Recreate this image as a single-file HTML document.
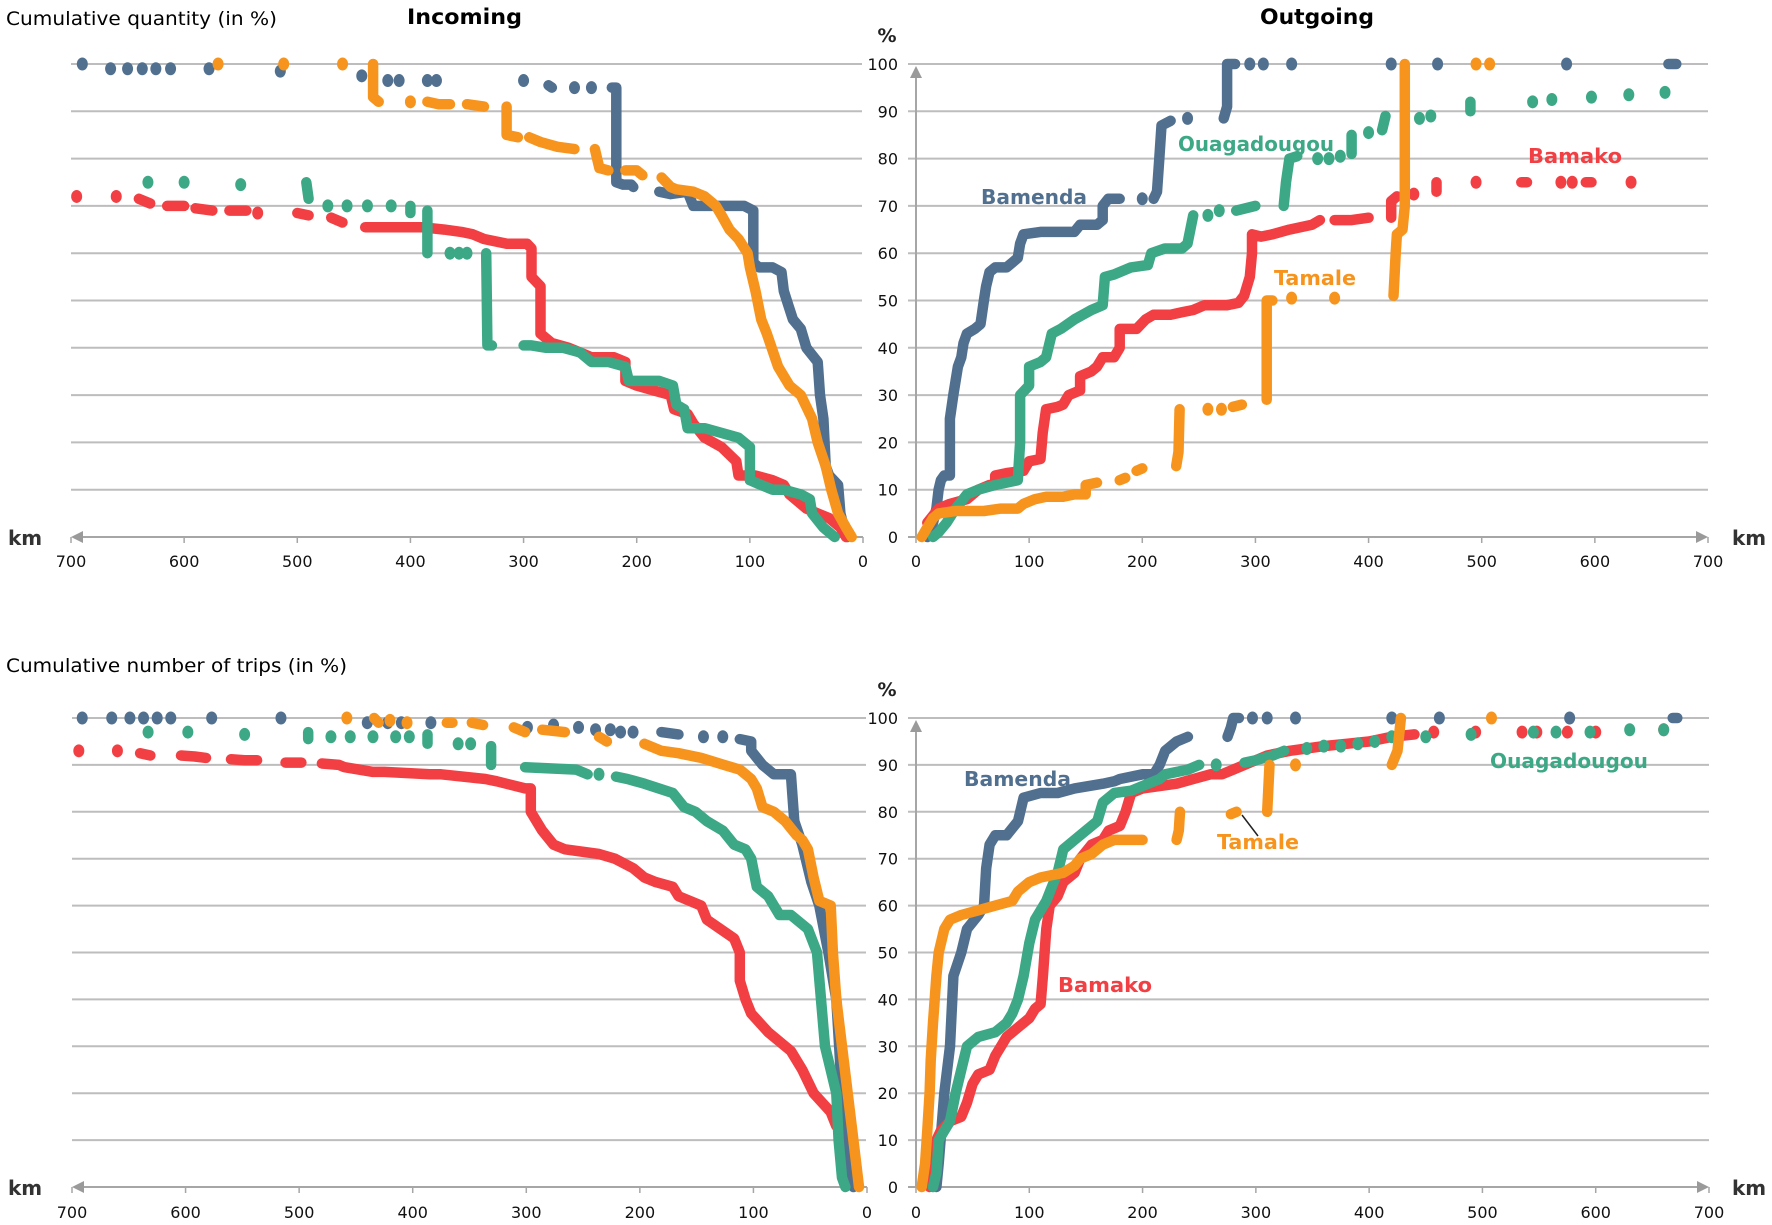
<!DOCTYPE html>
<html><head><meta charset="utf-8">
<style>
html,body{margin:0;padding:0;background:#fff;}
svg{display:block;font-family:"DejaVu Sans","Liberation Sans",sans-serif;}
</style></head>
<body>
<svg id="chart" xmlns="http://www.w3.org/2000/svg" width="1772" height="1225" viewBox="0 0 1772 1225">
<text x="6" y="25" font-size="19" textLength="271" lengthAdjust="spacingAndGlyphs">Cumulative quantity (in %)</text>
<text x="407" y="24" font-size="21" font-weight="bold" textLength="115" lengthAdjust="spacingAndGlyphs">Incoming</text>
<text x="1260" y="24" font-size="21" font-weight="bold" textLength="114" lengthAdjust="spacingAndGlyphs">Outgoing</text>
<text x="6" y="672" font-size="19" textLength="341" lengthAdjust="spacingAndGlyphs">Cumulative number of trips (in %)</text>
<g id="layer"></g>
</svg>
<script>
// ---------- data: [km, percent], null = break between separate marks ----------
const yTicks = [0,10,20,30,40,50,60,70,80,90,100];
const xTicks = [0,100,200,300,400,500,600,700];
const seriesNames = ["Bamenda","Bamako","Ouagadougou","Tamale"];

const qInBamenda = [[690,100],null,[665,99],null,[650,99],null,[637,99],null,[625,99],null,[612,99],null,[578,99],null,[515,98.5],null,[443,97.5],null,[420,96.5],null,[410,96.5],null,[385,96.5],null,[377,96.5],null,[300,96.5],null,[278,95.5],[275,95],null,[255,95],null,[240,95],null,
 [222,95],[218,95],[218,75],[212,74.5],[205,74.5],[203,74],null,[180,73],[170,72.5],[155,73],[150,70],[140,70],[120,70],[105,70],[97,69],[97,58],[92,57],[80,57],[72,56],[70,52],[66,49],[62,46],[55,44],[50,40],[40,37],[38,30],[35,25],[33,15],[30,13],[22,11],[20,5],[17,2],[14,0]];
const qInBamako = [[695,72],null,[660,72],null,[640,71.5],[630,70.5],null,[615,70],[600,70],null,[590,69.5],[575,69],null,[560,69],[545,69],null,[535,68.5],null,[500,68.5],[490,68],null,[470,67.5],[460,66.5],null,[440,65.5],[420,65.5],[405,65.5],[390,65.5],[370,65],[355,64.5],[345,64],[335,63],[315,62],[297,62],[293,61],[293,55],[285,53],[285,43],[275,41],[260,40],[250,39],[240,38],[220,38],[210,37],[210,33],[200,32],[185,31],[170,30],[167,27],[155,26],[150,24],[140,21],[125,19],[112,16],[110,13],[95,13],[80,12],[70,11],[65,9],[50,6],[40,5],[30,4],[20,2],[15,0]];
const qInOuaga = [[632,75],null,[600,75],null,[550,74.5],null,[492,75],[490,71.5],null,[473,70],null,[456,70],null,[438,70],null,[417,70],null,[400,70],[400,68.5],null,[385,69],[385,60],null,[365,60],null,[357,60],null,[350,60],null,[333,60],[332,40.5],[328,40.5],null,[300,40.5],[293,40.5],[280,40],[265,40],[250,39],[240,37],[225,37],[210,36],[207,33],[200,33],[180,33],[168,32],[165,28],[158,27],[155,23],[140,23],[125,22],[110,21],[100,19],[100,12],[90,11],[80,10],[70,10],[55,9],[47,8],[45,5],[35,2],[25,0]];
const qInTamale = [[570,100],null,[512,100],null,[460,100],null,[433,100],[433,93],[428,92],null,[400,92],null,[385,92],[375,91.5],[365,91.5],null,[350,91.5],[335,91],null,[315,91],[315,85],[305,84.5],null,[295,84.5],[285,83.5],[270,82.5],[255,82],null,[237,82],[235,80],[233,78],[225,77.5],null,[210,77.5],[200,77.5],[195,76.5],null,[178,76],[170,74],[165,73.5],[150,73],[140,72],[130,70],[125,68],[118,65],[110,63],[102,60],[100,57],[95,52],[90,46],[85,43],[75,36],[65,32],[55,30],[45,25],[40,20],[33,15],[28,10],[22,5],[15,2],[10,0]];

const qOutBamenda = [[10,0],[15,3],[18,6],[20,10],[22,12],[25,13],[30,13],[30,17],[30,25],[33,30],[35,33],[37,36],[40,38],[42,41],[45,43],[52,44],[57,45],[60,50],[62,53],[65,56],[70,57],[80,57],[85,58],[90,59],[92,62],[95,64],[110,64.5],[125,64.5],[140,64.5],[145,66],[160,66],[165,67],[165,70],[170,71.5],[180,71.5],null,[200,71.5],null,[210,71.5],[213,73],[215,80],[217,87],[225,88],null,[240,88.5],null,[272,88.5],[275,91],[275,100],[282,100],null,[295,100],null,[307,100],null,[332,100],null,[420,100],null,[461,100],null,[575,100],null,[665,100],[672,100]];
const qOutBamako = [[10,3],[20,6],[30,7],[45,8],[55,10],[65,11],[70,11],[70,13],[80,13.5],[95,14],[100,16],[110,16.5],[112,22],[115,27],[125,27.5],[130,28],[135,30],[145,31],[145,34],[155,35],[160,36],[165,38],[175,38],[180,40],[180,44],[195,44],[203,46],[210,47],[225,47],[235,47.5],[245,48],[255,49],[275,49],[285,49.5],[290,51],[295,55],[297,60],[297,64],[305,63.5],[315,64],[330,65],[350,66],[357,67],null,[370,67],[385,67],[400,67.5],null,[420,67.5],[420,71],[425,72],null,[440,72.5],null,[460,73],[460,75],null,[495,75],null,[535,75],[540,75],null,[570,75],null,[580,75],null,[592,75],[597,75],null,[632,75]];
const qOutOuaga = [[15,0],[20,1],[27,3],[35,6],[45,9],[55,10],[70,11],[80,11.5],[90,12],[92,20],[92,30],[100,32],[100,36],[110,37],[115,38],[120,43],[128,44],[140,46],[155,48],[165,49],[167,55],[175,55.5],[190,57],[205,57.5],[208,60],[220,61],[235,61],[240,62],[245,68],null,[258,68],null,[268,69],null,[283,69],[300,70],null,[325,70],[327,75],[330,80],[337,80.5],null,[355,80],null,[365,80],null,[375,80.5],null,[385,81],[385,85],null,[400,85.5],null,[412,86],[415,89],null,[445,88.5],null,[455,89],null,[490,90],[490,92],null,[545,92],null,[562,92.5],null,[597,93],null,[630,93.5],null,[662,94]];
const qOutTamale = [[5,0],[10,2],[15,4],[20,5],[35,5.5],[50,5.5],[60,5.5],[75,6],[90,6],[95,7],[105,8],[115,8.5],[130,8.5],[140,9],[150,9],[150,11],[160,11.5],null,[180,12],[185,12.5],null,[195,14],[200,14.5],null,[230,15],[232,18],[233,27],null,[258,27],null,[270,27],null,[280,27.5],[288,28],null,[310,29],[310,50],[315,50],null,[332,50.5],null,[370,50.5],null,[422,51],[424,60],[425,64],[430,65],[432,70],[432,100],null,[495,100],null,[507,100]];

const tInBamenda = [[691,100],null,[665,100],null,[649,100],null,[637,100],null,[625,100],null,[613,100],null,[577,100],null,[516,100],null,[440,99],null,[422,99],null,[410,99],null,[384,99],null,[299,98],null,[276,98.5],null,[254,98],null,[239,97.5],null,[226,97.5],null,[217,97],null,[206,97],null,[181,97],[166,96.5],null,[144,96],null,[127,96],null,[112,95.5],[102,95],[102,93],[92,90],[82,88],[67,88],[64,78],[57,73],[49,65],[42,60],[34,50],[27,40],[22,20],[17,5],[12,0]];
const tInBamako = [[694,93],null,[660,93],null,[640,92.5],[631,92],null,[604,92],[592,91.8],[582,91.5],null,[560,91.2],[548,91],[537,91],null,[512,90.5],[498,90.5],null,[480,90.3],[465,90],[460,89.5],[435,88.5],[425,88.5],[385,88],[375,88],[336,87],[326,86.5],[301,85],[296,85],[296,80],[286,76],[276,73],[266,72],[236,71],[222,70],[206,68],[196,66],[186,65],[171,64],[166,62],[146,60],[141,57],[117,53],[112,50],[112,44],[107,40],[102,37],[87,33],[67,29],[57,25],[47,20],[32,16],[27,13]];
const tInOuaga = [[633,97],null,[598,97],null,[548,96.5],null,[492,97],[492,95.5],null,[472,96],null,[455,96],null,[435,96],null,[415,96],null,[403,96],null,[387,96.5],[387,94.5],null,[360,94.5],null,[349,94.5],null,[331,94],[331,90],null,[301,89.5],[256,89],[246,88],null,[236,88],null,[221,87.5],[211,87],[196,86],[171,84],[161,81],[151,80],[141,78],[127,76],[117,73],[107,72],[102,70],[97,64],[87,62],[77,58],[67,58],[52,55],[44,50],[37,30],[32,25],[27,20],[25,10],[22,2],[19,0]];
const tInTamale = [[458,100],null,[434,100],[430,99],null,[420,99.5],null,[405,99],null,[370,99],[365,99],null,[348,99],[338,98.5],null,[311,98],[301,97],null,[286,97.5],[266,97],null,[236,96],[229,95],null,[196,94.5],[181,93],[166,92.5],[146,91.5],[126,90],[112,89],[102,87],[97,85],[92,81],[82,80],[72,78],[62,75],[57,74],[52,72],[47,66],[42,61],[32,60],[30,50],[27,40],[22,30],[17,20],[12,10],[7,0]];

const tOutBamenda = [[18,0],[20,5],[25,20],[30,30],[33,45],[40,50],[45,55],[55,58],[60,60],[62,68],[65,73],[70,75],[80,75],[90,78],[95,83],[110,84],[125,84],[140,85],[165,86],[175,86.5],[180,87],[200,88],[210,88],[215,90],[220,93],[230,95],[240,96],null,[275,96],[278,98],[280,100],[285,100],null,[297,100],null,[310,100],null,[335,100],null,[420,100],null,[462,100],null,[577,100],null,[668,100],[672,100]];
const tOutBamako = [[12,0],[15,5],[18,10],[22,12],[30,14],[40,15],[45,18],[50,22],[55,24],[65,25],[70,28],[75,30],[80,32],[90,34],[100,36],[105,38],[110,39],[112,45],[115,55],[118,60],[125,62],[130,65],[140,67],[145,70],[155,73],[165,74],[170,76],[180,77],[185,80],[190,84],[200,85],[215,85.5],[230,86],[245,87],[260,88],[270,88],[280,89],[290,90],[300,91],[310,92],[330,93],[345,93.5],[360,94],[380,94.5],[400,95],[420,96],[440,96.5],null,[457,97],null,[494,97],null,[535,97],null,[548,97],null,[575,97],null,[600,97],null,[660,97.5]];
const tOutOuaga = [[15,0],[18,3],[20,10],[25,12],[30,14],[35,20],[40,25],[45,30],[55,32],[70,33],[80,35],[85,37],[90,40],[95,45],[100,52],[105,57],[115,61],[120,64],[125,67],[130,72],[140,74],[150,76],[160,78],[165,82],[175,84],[190,84.5],[205,86],[215,87],[220,88],[240,89],[250,90],null,[265,90],null,[290,90.5],[300,91],[315,92],[325,93],null,[345,93.5],null,[360,94],null,[375,94],null,[390,94.5],null,[405,95],null,[420,96],null,[450,96],null,[490,96.5],null,[545,97],null,[565,97],null,[595,97],null,[630,97.5],null,[660,97.5]];
const tOutTamale = [[5,0],[8,5],[10,12],[12,20],[13,27],[15,35],[18,45],[20,50],[25,55],[30,57],[40,58],[55,59],[70,60],[85,61],[90,63],[95,64],[100,65],[110,66],[120,66.5],[130,67],[140,68.5],[145,70],[155,71],[165,73],[175,74],[185,74],[200,74],null,[230,74],[232,76],[233,80],null,[278,79.5],[283,80],null,[310,80],[312,90],null,[335,90],null,[420,90],[425,93],[428,100],null,[508,100]];

// ---------- drawing ----------
const NS = "http://www.w3.org/2000/svg";
const layer = document.getElementById('layer');
const colors = {Bamenda:"#51708f",Bamako:"#f23f43",Ouagadougou:"#3ca886",Tamale:"#f7941d"};
function mk(tag, attrs, parent){const e=document.createElementNS(NS,tag);for(const k in attrs)e.setAttribute(k,attrs[k]);(parent||layer).appendChild(e);return e;}

const panels = [
 {id:"top-incoming", x0:863, x700:71, y0:537, y100:64, dir:-1, data:{Bamenda:qInBamenda,Bamako:qInBamako,Ouagadougou:qInOuaga,Tamale:qInTamale}, xl:561},
 {id:"top-outgoing", x0:916, x700:1708, y0:537, y100:64, dir:1, data:{Bamenda:qOutBamenda,Bamako:qOutBamako,Ouagadougou:qOutOuaga,Tamale:qOutTamale}, xl:561},
 {id:"bottom-incoming", x0:867, x700:72, y0:1187, y100:718, dir:-1, data:{Bamenda:tInBamenda,Bamako:tInBamako,Ouagadougou:tInOuaga,Tamale:tInTamale}, xl:1212},
 {id:"bottom-outgoing", x0:916, x700:1709, y0:1187, y100:718, dir:1, data:{Bamenda:tOutBamenda,Bamako:tOutBamako,Ouagadougou:tOutOuaga,Tamale:tOutTamale}, xl:1212}
];
const drawOrder = ["Bamenda","Bamako","Ouagadougou","Tamale"];

panels.forEach(p=>{
  const xs = km => p.x0 + (p.x700-p.x0)*km/700;
  const ys = v => p.y0 + (p.y100-p.y0)*v/100;
  const g = mk('g',{});
  
  
  const gl = Math.min(p.x0,p.x700), gr = Math.max(p.x0,p.x700);
  yTicks.forEach(t=>{
    if(t===0) return;
    const l = mk('line',{x1:p.dir<0?gl:p.x0-8, x2:p.dir<0?gr-1:gr, y1:ys(t), y2:ys(t), stroke:"#bdbdbd","stroke-width":2},g);
    
    
  });
  const ax = mk('line',{x1:p.dir<0?gl+6:p.x0-8, x2:gr-(p.dir>0?6:0), y1:p.y0, y2:p.y0, stroke:"#a6a6a6","stroke-width":2},g);
  
  
  const ah = p.dir<0 ? `${p.x700},${p.y0} ${p.x700+12},${p.y0-6} ${p.x700+12},${p.y0+6}` : `${p.x700},${p.y0} ${p.x700-12},${p.y0-6} ${p.x700-12},${p.y0+6}`;
  const arr = mk('polygon',{points:ah, fill:"#9a9a9a"},g);
  
  
  xTicks.forEach(t=>{
    const tk = mk('line',{x1:xs(t),x2:xs(t),y1:p.y0,y2:p.y0+6,stroke:"#a6a6a6","stroke-width":1.5},g);
    
    
    const tx = mk('text',{x:xs(t), y:p.xl+6, "font-size":16, "text-anchor":"middle", fill:"#111"},g);
    tx.textContent = t;
    
    
  });
  if(p.dir>0){
    const ya = mk('line',{x1:p.x0,x2:p.x0,y1:p.y0,y2:p.y100+10,stroke:"#a6a6a6","stroke-width":2},g);
    
    
    const yh = mk('polygon',{points:`${p.x0},${p.y100+2} ${p.x0-6},${p.y100+14} ${p.x0+6},${p.y100+14}`, fill:"#9a9a9a"},g);
    
    
    yTicks.forEach(t=>{
      const tx = mk('text',{x:898, y:ys(t)+6, "font-size":16, "text-anchor":"end", fill:"#111"},g);
      tx.textContent = t;
      
      
    });
    const pc = mk('text',{x:887, y:p.y100-22, "font-size":19, "font-weight":"bold", "text-anchor":"middle", fill:"#222"},g);
    pc.textContent = "%";
    
    
  }
  const km = mk('text',{x:p.dir<0?8:1732, y:p.y0+8, "font-size":20, "font-weight":"bold", fill:"#333"},g);
  km.textContent = "km";
  
  

  drawOrder.forEach(name=>{
    const arrData = p.data[name];
    const sg = mk('g',{},g);
    
    
    let seg = [];
    const flush = ()=>{
      if(!seg.length) return;
      if(seg.length===1){
        const c = mk('ellipse',{cx:xs(seg[0][0]), cy:ys(seg[0][1]), rx:5.5, ry:6.5, fill:colors[name]},sg);
        
        
      } else {
        const pl = mk('polyline',{points:seg.map(d=>xs(d[0]).toFixed(1)+','+ys(d[1]).toFixed(1)).join(' '), fill:"none", stroke:colors[name], "stroke-width":10.5, "stroke-linejoin":"round","stroke-linecap":"round"},sg);
        
        
      }
      seg = [];
    };
    arrData.forEach(d=>{ if(d===null) flush(); else seg.push(d); });
    flush();
  });
});

const labels = [
 ["label-ouagadougou-top","Ouagadougou",1178,151,156,colors.Ouagadougou],
 ["label-bamenda-top","Bamenda",981,204,106,colors.Bamenda],
 ["label-bamako-top","Bamako",1528,163,94,colors.Bamako],
 ["label-tamale-top","Tamale",1274,285,82,colors.Tamale],
 ["label-bamenda-bottom","Bamenda",964,786,107,colors.Bamenda],
 ["label-ouagadougou-bottom","Ouagadougou",1490,768,158,colors.Ouagadougou],
 ["label-tamale-bottom","Tamale",1217,849,82,colors.Tamale],
 ["label-bamako-bottom","Bamako",1058,992,94,colors.Bamako]
];
labels.forEach(l=>{
  const t = mk('text',{x:l[2], y:l[3], "font-size":20, "font-weight":"bold", fill:l[5], textLength:l[4], lengthAdjust:"spacingAndGlyphs"});
  t.textContent = l[1];
  
  
});
const ptr = mk('line',{x1:1258,y1:836,x2:1242,y2:815,stroke:"#222","stroke-width":1.5});


</script>
</body></html>
